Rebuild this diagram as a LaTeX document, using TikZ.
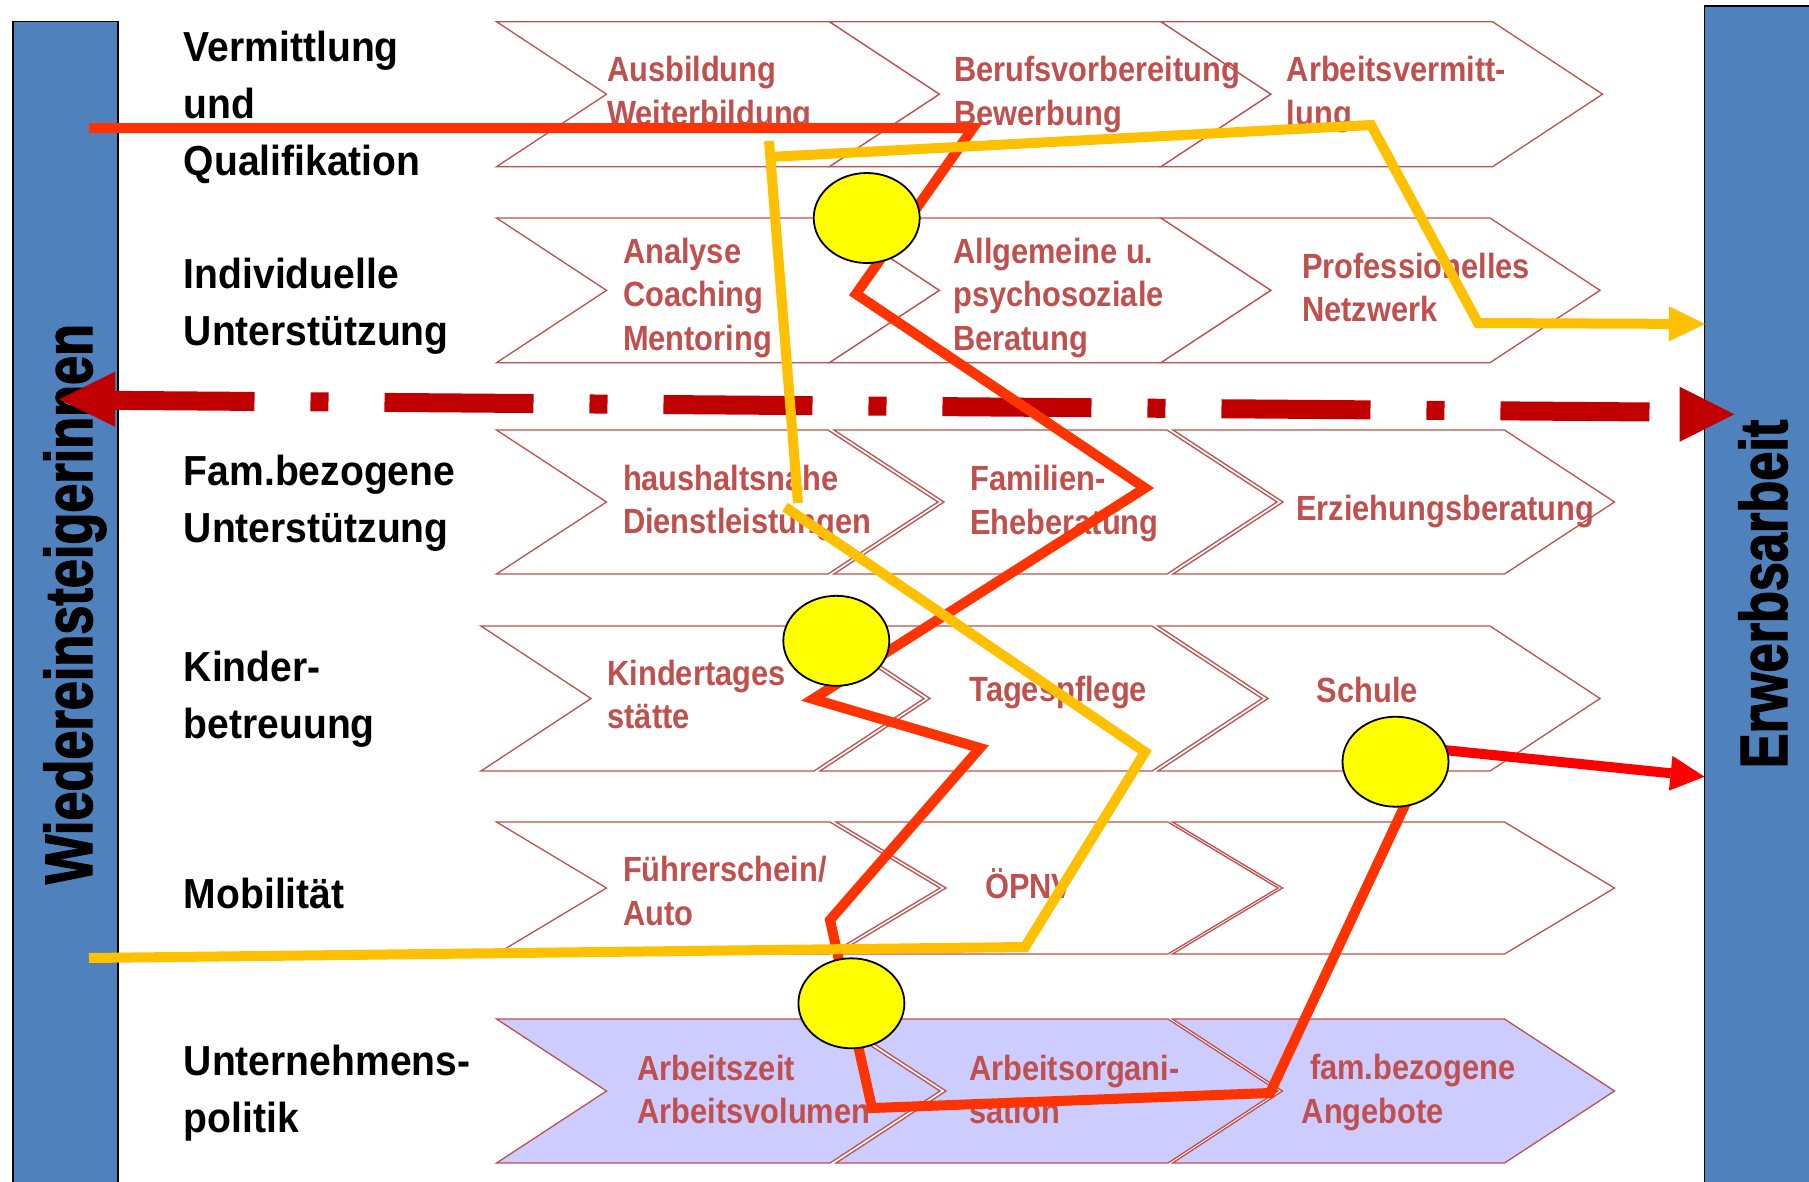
\documentclass[tikz,border=0pt]{standalone}
\usepackage{fontspec}
\setmainfont{Liberation Sans}
\newfontfamily\lblfont[FakeStretch=0.93]{Liberation Sans}
\newfontfamily\chvfont[FakeStretch=0.88]{Liberation Sans}
\newfontfamily\barfont[FakeStretch=0.78,FakeBold=2]{Liberation Sans}
\usetikzlibrary{shapes.geometric,arrows.meta}
\definecolor{barblue}{RGB}{79,129,189}
\definecolor{chevline}{RGB}{192,80,77}
\definecolor{lavend}{RGB}{204,204,255}
\definecolor{lineorange}{RGB}{255,51,0}
\definecolor{lineamber}{RGB}{255,192,0}
\definecolor{dashred}{RGB}{192,0,0}
\definecolor{arrred}{RGB}{255,0,0}
\definecolor{dotyellow}{RGB}{255,255,0}
\newcommand\stk[1]{\vtop{\halign{##\hfil\cr#1\crcr}}}
\newcommand\chev[5]{\path[#1] (#2,#4) -- (#3,#4) -- ({#3+110},{(#4+#5)/2}) -- (#3,#5) -- (#2,#5) -- ({#2+110},{(#4+#5)/2}) -- cycle;}
\begin{document}
\begin{tikzpicture}[x=1pt,y=-1pt,
  chv/.style={draw=chevline,line width=1.3pt,fill=white,line join=miter},
  chvb/.style={chv,fill=lavend},
  lbl/.style={anchor=base west,inner sep=0pt,font=\lblfont\bfseries\fontsize{42}{57}\selectfont},
  ctx/.style={anchor=base west,inner sep=0pt,text=chevline,font=\chvfont\bfseries\fontsize{35}{43.5}\selectfont},
  barbox/.style={fill=barblue,draw=black,line width=1.5pt},
  bartext/.style={rotate=90,anchor=base,inner sep=0pt,font=\barfont\bfseries\fontsize{67}{80}\selectfont},
  orangeline/.style={draw=lineorange,line width=10pt,line join=miter,line cap=butt},
  amberline/.style={draw=lineamber,line width=10pt,line join=miter,line cap=butt},
  dashline/.style={draw=dashred,line width=19pt,line cap=butt,dash pattern=on 149pt off 56pt on 18pt off 56pt},
  dot/.style={ellipse,draw=black,line width=1.8pt,fill=dotyellow,minimum width=106pt,minimum height=90pt,inner sep=0pt}
]
\useasboundingbox (0,0) rectangle (1809,1181);
\clip (0,0) rectangle (1809,1181);
\fill[white] (0,0) rectangle (1809,1181);

% side bars
\path[barbox] (13,21.7) rectangle (118,1195);
\path[barbox] (1704.6,6) rectangle (1830,1195);
\node[bartext] (wl) at (92,604) {Wiedereinsteigerinnen};
\node[bartext] (wr) at (1787,594) {Erwerbsarbeit};

% chevrons
\chev{chv}{496.5}{829.5}{21.7}{166.7}
\chev{chv}{829.5}{1161}{21.7}{166.7}
\chev{chv}{1161}{1492.5}{21.7}{166.7}
\chev{chv}{496.5}{829.5}{218}{362.7}
\chev{chv}{829.5}{1161}{218}{362.7}
\chev{chv}{1161}{1490}{218}{362.7}
\chev{chv}{496.5}{828}{430}{574}
\chev{chv}{834}{1167}{430}{574}
\chev{chv}{1173}{1504.5}{430}{574}
\chev{chv}{481}{814}{626}{771}
\chev{chv}{820}{1152}{626}{771}
\chev{chv}{1158}{1490}{626}{771}
\chev{chv}{496.5}{830}{822}{954}
\chev{chv}{836}{1168}{822}{954}
\chev{chv}{1172.5}{1504.5}{822}{954}
\chev{chvb}{496.5}{830}{1019}{1163}
\chev{chvb}{836}{1168}{1019}{1163}
\chev{chvb}{1172.5}{1504.5}{1019}{1163}

% row labels
\node[lbl] (lab1) at (183.7,61.7) {\stk{Vermittlung\cr und\cr Qualifikation}};
\node[lbl] (lab2) at (183.7,288.3) {\stk{Individuelle\cr Unterstützung}};
\node[lbl] (lab3) at (183.7,485) {\stk{Fam.bezogene\cr Unterstützung}};
\node[lbl] (lab4) at (183.7,681.7) {\stk{Kinder-\cr betreuung}};
\node[lbl] (lab5) at (183.7,908.3) {Mobilität};
\node[lbl] (lab6) at (183.7,1075) {\stk{Unternehmens-\cr politik}};

% chevron texts
\node[ctx] (t11) at (606.8,81.7) {\stk{Ausbildung\cr Weiterbildung}};
\node[ctx] (t12) at (954,81.7) {\stk{Berufsvorbereitung\cr Bewerbung}};
\node[ctx] (t13) at (1286.7,81.7) {\stk{Arbeitsvermitt-\cr lung}};
\node[ctx] (t21) at (622.8,263.3) {\stk{Analyse\cr Coaching\cr Mentoring}};
\node[ctx] (t22) at (953,263.3) {\stk{Allgemeine u.\cr psychosoziale\cr Beratung}};
\node[ctx] (t23) at (1302,278.3) {\stk{Professionelles\cr Netzwerk}};
\node[ctx] (t31) at (622.8,490) {\stk{haushaltsnahe\cr Dienstleistungen}};
\node[ctx] (t32) at (970,490.7) {\stk{Familien-\cr Eheberatung}};
\node[ctx] (t33) at (1296,520) {Erziehungsberatung};
\node[ctx] (t41) at (607.3,685) {\stk{Kindertages\cr stätte}};
\node[ctx] (t42) at (969.3,701.7) {Tagespflege};
\node[ctx] (t43) at (1316.7,702.3) {Schule};
\node[ctx] (t51) at (622.8,881.7) {\stk{Führerschein/\cr Auto}};
\node[ctx] (t52) at (985,898.3) {ÖPNV};
\node[ctx] (t61) at (637.2,1080) {\stk{Arbeitszeit\cr Arbeitsvolumen}};
\node[ctx] (t62) at (968.9,1080) {\stk{Arbeitsorgani-\cr sation}};
\node[ctx] (t63a) at (1309.9,1079) {fam.bezogene};
\node[ctx] (t63b) at (1301.7,1123.3) {Angebote};

% coordinates
\coordinate (ds) at (105.5,400.3);
\coordinate (de) at (1653,412);
\coordinate (dlt) at (59.3,399.3);
\coordinate (dlb1) at (115,371.7);
\coordinate (dlb2) at (115,426.7);
\coordinate (drt) at (1734.3,414.3);
\coordinate (drb1) at (1679.6,386.7);
\coordinate (drb2) at (1679.6,441.7);

\coordinate (r0) at (89,128);
\coordinate (r1) at (973,128);
\coordinate (r2) at (856,294);
\coordinate (r3) at (1145,488);
\coordinate (r4) at (813,699);
\coordinate (r5) at (980,748);
\coordinate (r6) at (830,920);
\coordinate (r7) at (872,1108);
\coordinate (r8) at (1270,1093);
\coordinate (r9) at (1412,790);

\coordinate (y0) at (89,958);
\coordinate (y1) at (1025,947);
\coordinate (y2) at (1145,752);
\coordinate (y3) at (785,507);
\coordinate (yv0) at (798,503);
\coordinate (yv1) at (769,141);
\coordinate (yh0) at (769,157);
\coordinate (yh1) at (1371,125);
\coordinate (yh2) at (1478,323);
\coordinate (ytip) at (1705,324);

\coordinate (ra0) at (1400,745.5);
\coordinate (ratip) at (1704.5,776.7);

% dash-dot double arrow
\draw[dashline] (ds) -- (de);
\fill[dashred] (dlt) -- (dlb1) -- (dlb2) -- cycle;
\fill[dashred] (drt) -- (drb1) -- (drb2) -- cycle;

% orange-red path
\draw[orangeline] (r0) -- (r1) -- (r2) -- (r3) -- (r4) -- (r5) -- (r6) -- (r7) -- (r8) -- (r9);

% amber path
\draw[amberline] (y0) -- (y1) -- (y2) -- (y3);
\draw[amberline] (yv0) -- (yv1);
\draw[amberline,-{Triangle[length=36pt,width=35pt,line width=0pt]}] (yh0) -- (yh1) -- (yh2) -- (ytip);

% red arrow
\draw[draw=arrred,line width=10pt,-{Triangle[length=34pt,width=35pt,line width=0pt]}] (ra0) -- (ratip);

% yellow dots
\node[dot] (c1) at (866.7,218) {};
\node[dot] (c2) at (836.3,640.8) {};
\node[dot] (c3) at (1395.5,761.7) {};
\node[dot] (c4) at (851.4,1003.3) {};
\end{tikzpicture}
\end{document}
